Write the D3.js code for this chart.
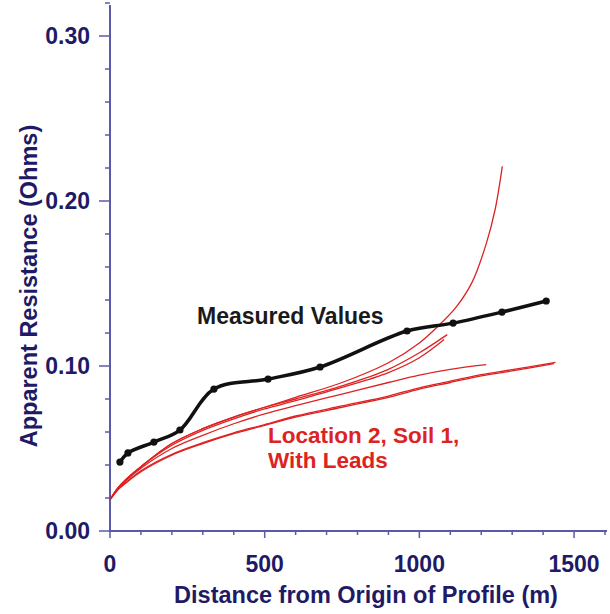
<!DOCTYPE html>
<html><head><meta charset="utf-8">
<script src="https://cdn.jsdelivr.net/npm/d3@7"></script>
<style>body{margin:0;background:#fff}svg{display:block}text{font-family:"Liberation Sans",Arial,sans-serif;font-weight:bold}</style>
</head><body>
<svg id="c" width="610" height="614"></svg>
<script>
// Measured values
const measuredDist = [32, 58, 142, 226, 336, 511, 679, 960, 1109, 1267, 1410];
const measuredRes  = [0.0418, 0.0473, 0.0539, 0.0612, 0.0860, 0.0921, 0.0994, 0.1212, 0.1260, 0.1327, 0.1394];

// Model curves (Location 2, Soil 1, With Leads)
const curveA_x = [0, 25, 50, 100, 200, 300, 400, 500, 600, 750, 900, 1000, 1065, 1120, 1171, 1216, 1245, 1268];
const curveA_y = [0.019, 0.026, 0.031, 0.039, 0.053, 0.062, 0.069, 0.075, 0.081, 0.090, 0.102, 0.114, 0.125, 0.136, 0.151, 0.174, 0.195, 0.221];
const curveB_x = [0, 25, 50, 100, 200, 300, 400, 500, 600, 750, 900, 1000, 1090];
const curveB_y = [0.019, 0.026, 0.031, 0.039, 0.053, 0.062, 0.069, 0.075, 0.080, 0.088, 0.098, 0.108, 0.119];
const curveB2_x = [0, 25, 50, 100, 200, 300, 400, 500, 600, 750, 900, 1000, 1080];
const curveB2_y = [0.019, 0.026, 0.031, 0.039, 0.052, 0.061, 0.068, 0.074, 0.079, 0.087, 0.096, 0.105, 0.116];
const curveC_x = [0, 25, 50, 100, 200, 300, 400, 500, 600, 750, 900, 1000, 1100, 1216];
const curveC_y = [0.019, 0.025, 0.030, 0.038, 0.050, 0.058, 0.065, 0.071, 0.076, 0.083, 0.090, 0.0945, 0.098, 0.1008];
const curveD_x = [0, 25, 50, 100, 200, 300, 400, 500, 600, 750, 900, 1000, 1100, 1200, 1300, 1435];
const curveD_y = [0.019, 0.025, 0.029, 0.036, 0.046, 0.053, 0.059, 0.064, 0.069, 0.075, 0.081, 0.086, 0.090, 0.094, 0.097, 0.1015];
const curveD2_x = [0, 25, 50, 100, 200, 300, 400, 500, 600, 750, 900, 1000, 1100, 1200, 1300, 1440];
const curveD2_y = [0.019, 0.025, 0.029, 0.0365, 0.0465, 0.0535, 0.0595, 0.0645, 0.0697, 0.0758, 0.0818, 0.0868, 0.0908, 0.0948, 0.0978, 0.1022];

const xTicks = [0, 500, 1000, 1500];
const yTicks = [0.00, 0.10, 0.20, 0.30];
const xLabel = "Distance from Origin of Profile (m)";
const yLabel = "Apparent Resistance (Ohms)";
const measuredLabel = "Measured Values";
const modelLabel = ["Location 2, Soil 1,", "With Leads"];

const navy = "#1f1a66", axisCol = "#5a5aa8", red = "#dd2222";
const svg = d3.select("#c");
const x = d3.scaleLinear().domain([0, 1600]).range([110, 605]);
const y = d3.scaleLinear().domain([0, 0.32]).range([531, 3]);

// Axes
const xMinor = d3.range(0, 1601, 100);
const yMinor = d3.range(0, 0.3201, 0.02);
const gx = svg.append("g").attr("transform", "translate(0,531)");
gx.append("line").attr("x1", 110).attr("x2", 607).attr("stroke", axisCol).attr("stroke-width", 2);
gx.selectAll("line.t").data(xMinor).join("line").attr("class", "t")
  .attr("x1", d => x(d)).attr("x2", d => x(d)).attr("y1", 0)
  .attr("y2", d => (d % 500 === 0 ? 7 : 4)).attr("stroke", axisCol).attr("stroke-width", 1.5);
gx.selectAll("text").data(xTicks).join("text")
  .attr("x", d => x(d)).attr("y", 41).attr("text-anchor", "middle")
  .attr("font-size", 23).attr("fill", navy).text(d => d);

const gy = svg.append("g").attr("transform", "translate(110,0)");
gy.append("line").attr("y1", 5).attr("y2", 532).attr("stroke", axisCol).attr("stroke-width", 2);
gy.selectAll("line.t").data(yMinor).join("line").attr("class", "t")
  .attr("y1", d => y(d)).attr("y2", d => y(d)).attr("x1", 0)
  .attr("x2", (d, i) => (i % 5 === 0 ? -11 : -5)).attr("stroke", axisCol).attr("stroke-width", 1.5);
gy.selectAll("text").data(yTicks).join("text")
  .attr("x", -20).attr("y", d => y(d)).attr("dy", "0.36em").attr("text-anchor", "end")
  .attr("font-size", 23).attr("fill", navy).text(d => d.toFixed(2));

svg.append("text").attr("x", 366).attr("y", 603).attr("text-anchor", "middle")
  .attr("font-size", 23.5).attr("fill", navy).text(xLabel);
svg.append("text").attr("transform", "translate(37,286) rotate(-90)").attr("text-anchor", "middle")
  .attr("font-size", 23.5).attr("fill", navy).text(yLabel);

// Red model curves
const curves = [[curveA_x, curveA_y], [curveB_x, curveB_y], [curveB2_x, curveB2_y],
                [curveC_x, curveC_y], [curveD_x, curveD_y], [curveD2_x, curveD2_y]];
const redLine = d3.line().x(d => x(d[0])).y(d => y(d[1])).curve(d3.curveCatmullRom.alpha(0.5));
svg.append("g").selectAll("path").data(curves).join("path")
  .attr("d", c => redLine(c[0].map((v, i) => [v, c[1][i]])))
  .attr("fill", "none").attr("stroke", red).attr("stroke-width", 1.3);

// Measured line
const mData = measuredDist.map((d, i) => [d, measuredRes[i]]);
svg.append("path").attr("d", d3.line().x(d => x(d[0])).y(d => y(d[1])).curve(d3.curveCatmullRom.alpha(0.5))(mData))
  .attr("fill", "none").attr("stroke", "#111").attr("stroke-width", 3.5).attr("stroke-linejoin", "round");
svg.append("g").selectAll("circle").data(mData).join("circle")
  .attr("cx", d => x(d[0])).attr("cy", d => y(d[1])).attr("r", 3.6).attr("fill", "#111");

// Annotations
svg.append("text").attr("x", 197).attr("y", 324).attr("font-size", 23).attr("fill", "#1a1a1a").text(measuredLabel);
svg.append("g").selectAll("text").data(modelLabel).join("text")
  .attr("x", 268).attr("y", (d, i) => 443 + i * 25).attr("font-size", 22.5).attr("fill", red).text(d => d);
</script>
</body></html>
